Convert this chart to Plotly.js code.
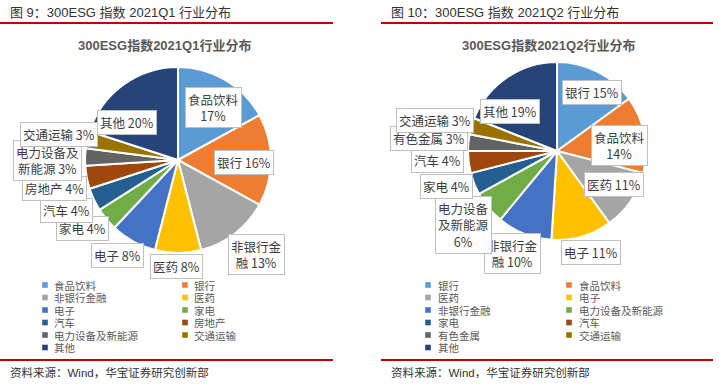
<!DOCTYPE html>
<html><head><meta charset="utf-8">
<script src="https://cdn.plot.ly/plotly-3.0.1.min.js"></script>
<style>html,body{margin:0;padding:0;background:#fff}#chart{width:719px;height:390px}</style>
</head><body><div id="chart"></div>
<script>
// ---- data ----
const categoriesQ1 = ['食品饮料','银行','非银行金融','医药','电子','家电','汽车','房地产','电力设备及新能源','交通运输','其他'];
const weightsQ1 = [17,16,13,8,8,4,4,4,3,3,20];
const categoriesQ2 = ['银行','食品饮料','医药','电子','非银行金融','电力设备及新能源','家电','汽车','有色金属','交通运输','其他'];
const weightsQ2 = [15,14,11,11,10,6,4,4,3,3,19];
const figureTitles = ['图 9：300ESG 指数 2021Q1 行业分布','图 10：300ESG 指数 2021Q2 行业分布'];
const chartTitles = ['300ESG指数2021Q1行业分布','300ESG指数2021Q2行业分布'];
const sourceNote = '资料来源：Wind，华宝证券研究创新部';

// ---- style ----
const sliceColors = ['#5B9BD5','#ED7D31','#A5A5A5','#FFC000','#4472C4','#70AD47','#255E91','#9E480E','#636363','#997300','#264478'];
const W = 719, H = 390;
const px = x => x / W, py = y => 1 - y / H;
const latinCJK = 'Liberation Sans, Noto Sans CJK SC, sans-serif';
const cjk = 'Noto Sans CJK SC, Liberation Sans, sans-serif';

const panels = [
  {cats: categoriesQ1, vals: weightsQ1, cx: 178, cy: 160, r: 93,
   fig: figureTitles[0], title: chartTitles[0], titleX: 164, headX: 8, lineX: [0, 333],
   legSq: [45, 185], legTx: [53, 193],
   k:  [0.68, 0.71, 1.32, 1.14, 1.22, 1.27, 1.32, 1.36, 1.40, 1.31, 0.68],
   da: [4, 2.6, -2.2, 1, 3.6, 3.9, 0.7, -2, -2.2, -0.7, -18],
   breaks: {0: [4], 2: [4], 8: [5]}},
  {cats: categoriesQ2, vals: weightsQ2, cx: 557, cy: 151, r: 89,
   fig: figureTitles[1], title: chartTitles[1], titleX: 548, headX: 389, lineX: [381, 713],
   legSq: [428, 569], legTx: [437, 578],
   k:  [0.77, 0.71, 0.74, 1.20, 1.26, 1.34, 1.30, 1.35, 1.44, 1.41, 0.69],
   da: [3.7, 5.4, -4.1, -2.4, 2, 1.4, 3.9, 2.9, 0, -1.9, -15.4],
   breaks: {1: [4], 4: [4], 5: [4, 8]}}
];

function wrapText(s, brk) {
  if (!brk) return s;
  let out = '', last = 0;
  brk.forEach(p => {
    out += s.slice(last, p) + '<br>';
    last = (s[p] === ' ') ? p + 1 : p;
  });
  return out + s.slice(last);
}

const traces = [], annotations = [], shapes = [];
panels.forEach(P => {
  traces.push({
    type: 'pie', labels: P.cats, values: P.vals, sort: false, direction: 'clockwise', rotation: 0,
    marker: {colors: sliceColors, line: {color: '#ffffff', width: 2}},
    textinfo: 'none', textposition: 'none', hoverinfo: 'label+percent', showlegend: false,
    domain: {x: [px(P.cx - P.r), px(P.cx + P.r)], y: [py(P.cy + P.r), py(P.cy - P.r)]}
  });
  const total = P.vals.reduce((a, b) => a + b, 0);
  let cum = 0;
  P.vals.forEach((v, i) => {
    const th = ((cum + v / 2) / total * 360 + P.da[i]) * Math.PI / 180;
    cum += v;
    const x = P.cx + P.r * P.k[i] * Math.sin(th);
    const y = P.cy - P.r * P.k[i] * Math.cos(th);
    const txt = wrapText(P.cats[i] + ' ' + Math.round(v / total * 100) + '%', P.breaks[i]);
    annotations.push({xref: 'paper', yref: 'paper', x: px(x), y: py(y), xanchor: 'center', yanchor: 'middle',
      text: txt, showarrow: false, align: 'center', bgcolor: '#ffffff', bordercolor: '#BFBFBF', borderwidth: 1, borderpad: 2,
      font: {family: cjk, size: 12.5, color: '#404040'}});
    // legend
    const row = Math.floor(i / 2), col = i % 2;
    const ly = 285 + row * 12.5;
    shapes.push({type: 'rect', xref: 'paper', yref: 'paper', x0: px(P.legSq[col] - 2.8), x1: px(P.legSq[col] + 2.8),
      y0: py(ly + 2.8), y1: py(ly - 2.8), fillcolor: sliceColors[i], line: {width: 0}});
    annotations.push({xref: 'paper', yref: 'paper', x: px(P.legTx[col]), y: py(ly), xanchor: 'left', yanchor: 'middle',
      text: P.cats[i], showarrow: false, borderpad: 0, font: {family: cjk, size: 10.5, color: '#595959'}});
  });
  // chart title
  annotations.push({xref: 'paper', yref: 'paper', x: px(P.titleX), y: py(45), xanchor: 'center', yanchor: 'middle',
    text: '<b>' + P.title + '</b>', showarrow: false, font: {family: latinCJK, size: 13, color: '#595959'}});
  // figure header + source
  annotations.push({xref: 'paper', yref: 'paper', x: px(P.headX), y: py(12), xanchor: 'left', yanchor: 'middle',
    text: P.fig, showarrow: false, font: {family: latinCJK, size: 13, color: '#333333'}});
  annotations.push({xref: 'paper', yref: 'paper', x: px(P.headX), y: py(372), xanchor: 'left', yanchor: 'middle',
    text: sourceNote, showarrow: false, font: {family: latinCJK, size: 11.5, color: '#333333'}});
  [23, 360].forEach(yy => shapes.push({type: 'line', xref: 'paper', yref: 'paper', x0: px(P.lineX[0]), x1: px(P.lineX[1]),
    y0: py(yy), y1: py(yy), line: {color: '#C00000', width: 2}}));
});

Plotly.newPlot('chart', traces, {
  width: W, height: H, margin: {l: 0, r: 0, t: 0, b: 0},
  paper_bgcolor: '#ffffff', plot_bgcolor: '#ffffff', showlegend: false,
  annotations: annotations, shapes: shapes
}, {staticPlot: true});
</script></body></html>
